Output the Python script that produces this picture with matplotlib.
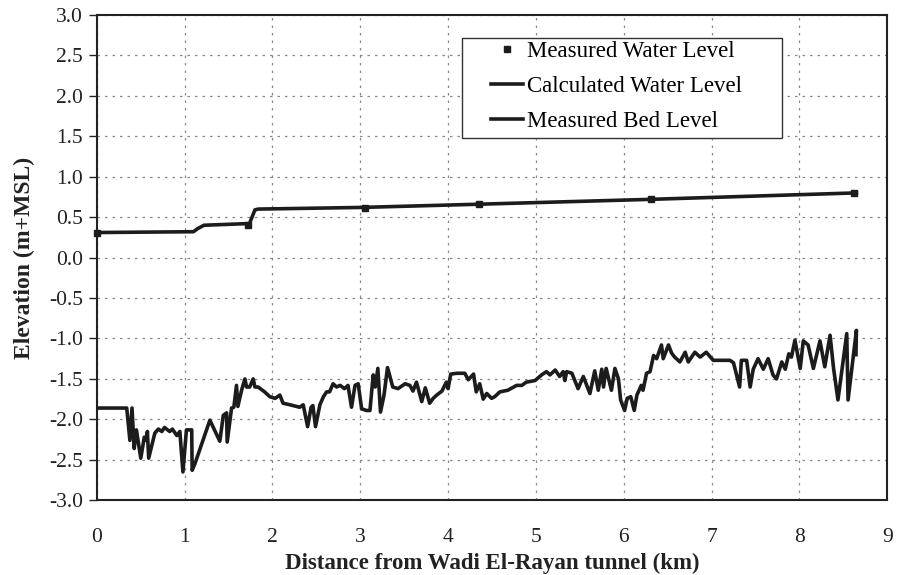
import matplotlib
matplotlib.use("Agg")
import matplotlib.pyplot as plt
from matplotlib.patches import Rectangle

# Calculated water level
calc_x = [0.0, 1.10, 1.15, 1.22, 1.71, 1.73, 1.80, 1.84, 3.0, 4.35, 6.3, 8.65]
calc_y = [0.31, 0.32, 0.36, 0.40, 0.42, 0.40, 0.59, 0.60, 0.62, 0.66, 0.72, 0.80]

# Measured water level
meas_x = [0.0, 1.72, 3.05, 4.35, 6.31, 8.62]
meas_y = [0.31, 0.40, 0.61, 0.66, 0.72, 0.80]

# Measured bed level
bed_x = [0.0, 0.34, 0.376, 0.40, 0.425, 0.45, 0.50, 0.54, 0.566, 0.575, 0.59, 0.66,
         0.70, 0.74, 0.77, 0.83, 0.86, 0.91, 0.945, 0.98, 1.02, 1.08, 1.085, 1.116,
         1.287, 1.40, 1.44, 1.477, 1.484, 1.534, 1.56, 1.59, 1.606, 1.648, 1.686,
         1.705, 1.74, 1.78, 1.80, 1.837, 1.91, 1.97, 2.03, 2.084, 2.12, 2.20, 2.31,
         2.35, 2.40, 2.44, 2.46, 2.49, 2.54, 2.58, 2.616, 2.65, 2.69, 2.73, 2.77,
         2.82, 2.86, 2.90, 2.94, 2.976, 3.015, 3.07, 3.11, 3.147, 3.17, 3.20, 3.23,
         3.27, 3.31, 3.37, 3.43, 3.51, 3.565, 3.60, 3.64, 3.70, 3.74, 3.79, 3.83,
         3.87, 3.93, 3.98, 4.00, 4.03, 4.10, 4.19, 4.23, 4.29, 4.32, 4.36, 4.40,
         4.44, 4.495, 4.53, 4.59, 4.68, 4.78, 4.84, 4.89, 4.99, 5.065, 5.12, 5.16,
         5.22, 5.27, 5.31, 5.33, 5.35, 5.41, 5.48, 5.54, 5.615, 5.67, 5.71, 5.75,
         5.77, 5.80, 5.86, 5.90, 5.94, 5.965, 6.01, 6.04, 6.08, 6.12, 6.15, 6.20,
         6.22, 6.26, 6.30, 6.34, 6.375, 6.43, 6.45, 6.51, 6.545, 6.58, 6.64, 6.70,
         6.735, 6.81, 6.87, 6.94, 7.02, 7.21, 7.25, 7.32, 7.34, 7.40, 7.44, 7.475,
         7.53, 7.59, 7.645, 7.70, 7.74, 7.80, 7.84, 7.88, 7.91, 7.95, 8.01, 8.045,
         8.10, 8.16, 8.235, 8.29, 8.35, 8.39, 8.44, 8.54, 8.555, 8.65, 8.645]
bed_y = [-1.86, -1.86, -2.26, -1.86, -2.36, -2.13, -2.48, -2.22, -2.26, -2.15, -2.48, -2.17,
         -2.12, -2.15, -2.10, -2.15, -2.12, -2.20, -2.15, -2.65, -2.13, -2.13, -2.63, -2.55,
         -2.01, -2.27, -1.95, -1.92, -2.28, -1.86, -1.85, -1.58, -1.84, -1.64, -1.50,
         -1.60, -1.60, -1.50, -1.60, -1.60, -1.66, -1.72, -1.74, -1.70, -1.80, -1.82, -1.85,
         -1.82, -2.09, -1.85, -1.83, -2.09, -1.82, -1.72, -1.66, -1.66, -1.56, -1.60, -1.58,
         -1.62, -1.58, -1.85, -1.58, -1.56, -1.87, -1.89, -1.89, -1.45, -1.60, -1.37, -1.91,
         -1.70, -1.36, -1.60, -1.62, -1.56, -1.58, -1.65, -1.54, -1.78, -1.61, -1.80, -1.74,
         -1.70, -1.65, -1.54, -1.62, -1.44, -1.43, -1.43, -1.51, -1.44, -1.66, -1.56, -1.75,
         -1.68, -1.74, -1.72, -1.66, -1.64, -1.58, -1.58, -1.54, -1.52, -1.45, -1.41, -1.45,
         -1.39, -1.47, -1.41, -1.52, -1.41, -1.43, -1.62, -1.47, -1.68, -1.40, -1.64, -1.38,
         -1.60, -1.37, -1.64, -1.37, -1.50, -1.76, -1.89, -1.74, -1.72, -1.89, -1.70, -1.58,
         -1.64, -1.43, -1.41, -1.21, -1.25, -1.08, -1.25, -1.08, -1.18, -1.23, -1.29, -1.17,
         -1.29, -1.17, -1.23, -1.17, -1.27, -1.27, -1.30, -1.60, -1.27, -1.27, -1.60, -1.38,
         -1.25, -1.38, -1.25, -1.45, -1.50, -1.29, -1.38, -1.19, -1.23, -1.02, -1.37, -1.03,
         -1.08, -1.37, -1.03, -1.35, -0.96, -1.37, -1.76, -0.94, -1.76, -0.90, -1.20]

x_ticks = list(range(0, 10))
y_ticks = [3.0, 2.5, 2.0, 1.5, 1.0, 0.5, 0.0, -0.5, -1.0, -1.5, -2.0, -2.5, -3.0]

plt.rcParams['font.family'] = ['Liberation Serif', 'DejaVu Serif']

fig = plt.figure(figsize=(8.97, 5.75), dpi=100)
ax = fig.add_axes([0.108, 0.130, 0.881, 0.844])

col = '#1c1c1c'
ax.plot(bed_x, bed_y, color=col, lw=2.6, label='Measured Bed Level', zorder=3)
ax.plot(calc_x, calc_y, color=col, lw=2.6, label='Calculated Water Level', zorder=3)
ax.plot(meas_x, meas_y, linestyle='none', marker='s', markersize=4.5, color=col,
        label='Measured Water Level', zorder=4, clip_on=False)

ax.set_xlim(0, 9)
ax.set_ylim(-3, 3)
ax.set_xticks(x_ticks)
ax.set_xticklabels([str(v) for v in x_ticks])
ax.set_yticks(y_ticks)
ax.set_yticklabels([f"{v:.1f}" for v in y_ticks])
ax.grid(True, color='#888888', linestyle=(0, (2, 4)), linewidth=0.9)
ax.tick_params(axis='y', direction='out', length=6, width=1, labelsize=15.5,
               colors='#222222', pad=4)
ax.tick_params(axis='x', direction='out', length=0, labelsize=15.5, colors='#222222', pad=20)
for s in ax.spines.values():
    s.set_linewidth(1.5)
    s.set_color('#222222')

ax.set_xlabel('Distance from Wadi El-Rayan tunnel (km)', fontsize=16.5, fontweight='bold',
              labelpad=4, color='#222222')
ax.set_ylabel('Elevation (m+MSL)', fontsize=17, fontweight='bold', labelpad=10,
              color='#222222')

# legend frame
ax.add_patch(Rectangle((0.462, 0.746), 0.405, 0.206, transform=ax.transAxes,
                       facecolor='white', edgecolor='#333333', lw=1.0, zorder=5))

handles, labels = ax.get_legend_handles_labels()
order = [2, 1, 0]
leg = ax.legend([handles[i] for i in order], [labels[i] for i in order],
                loc='upper left', bbox_to_anchor=(0.499, 0.946), fontsize=16.5,
                frameon=False, handlelength=1.4, handletextpad=0.15, borderpad=0.0,
                labelspacing=0.6, borderaxespad=0)
leg.set_zorder(6)

fig.savefig('out.png', dpi=100)
